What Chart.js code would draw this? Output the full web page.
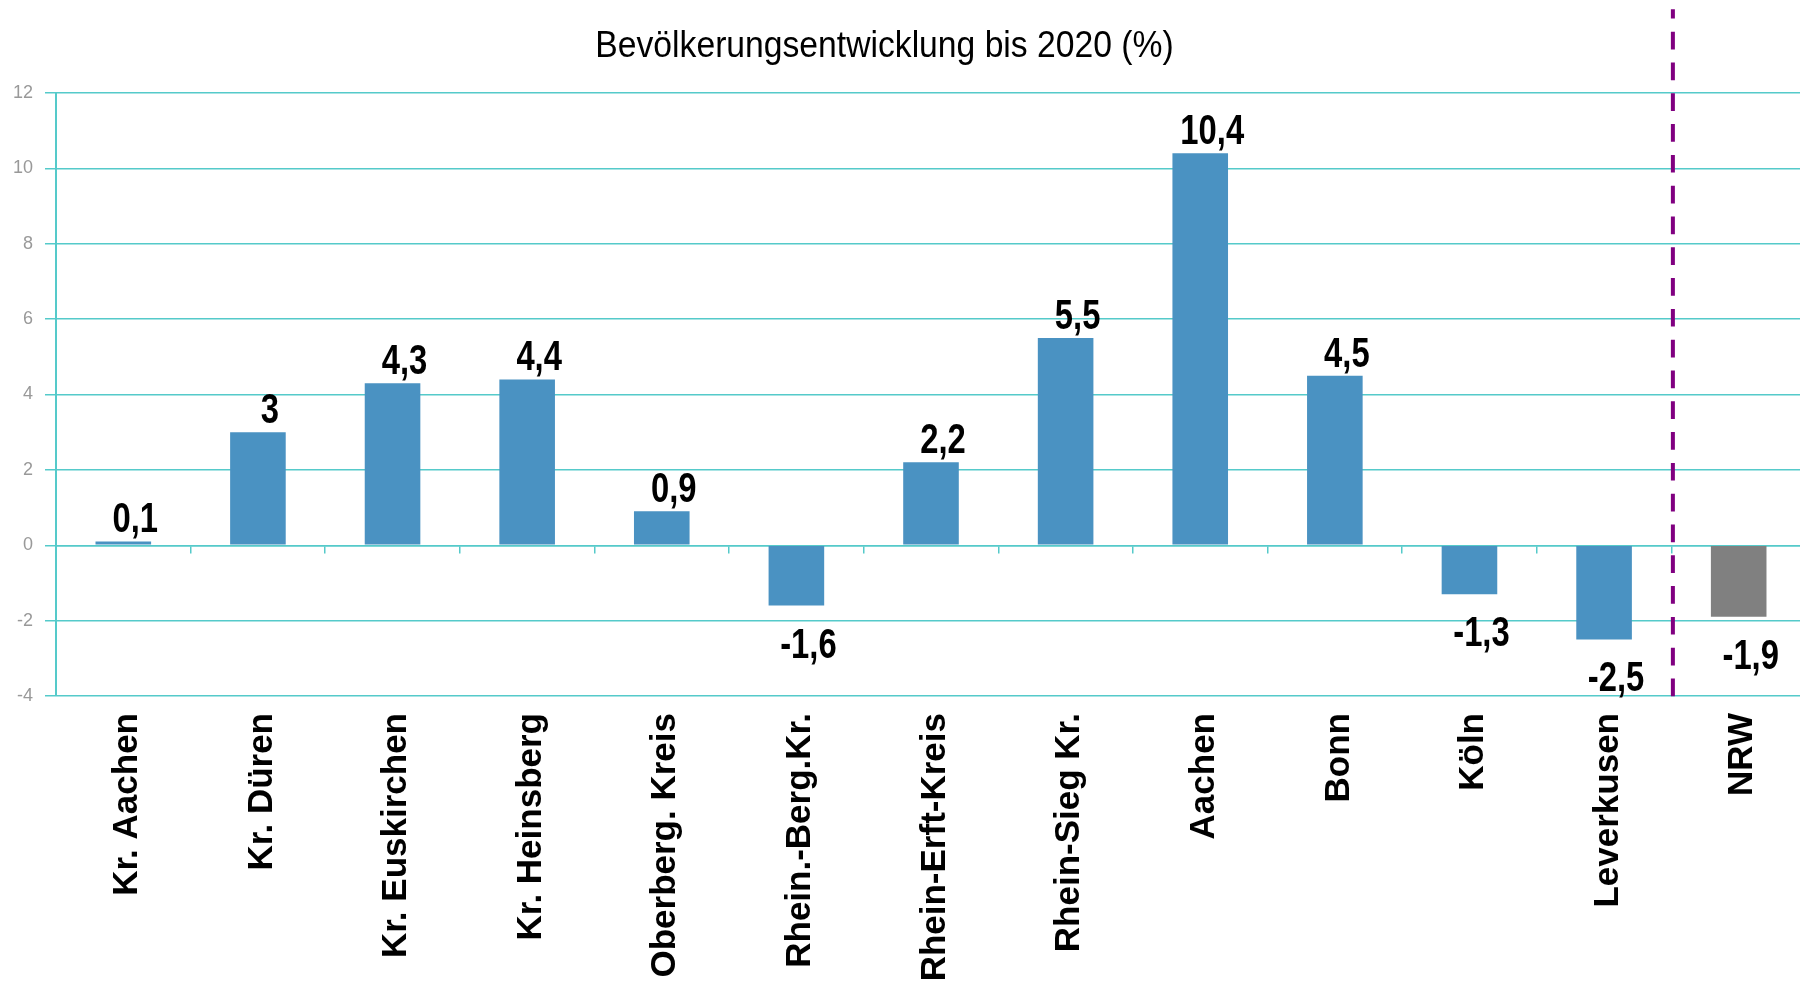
<!DOCTYPE html>
<html><head><meta charset="utf-8">
<script src="https://cdn.jsdelivr.net/npm/chart.js@4/dist/chart.umd.min.js"></script>
<style>
html,body{margin:0;padding:0;background:#fff;overflow:hidden;width:1800px;height:982px}
#wrap{position:absolute;left:0;top:0;width:1810px;height:982px}
</style>
</head><body><div id="wrap"><canvas id="c" width="1810" height="982"></canvas></div>
<script>
const categories = ['Kr. Aachen','Kr. Düren','Kr. Euskirchen','Kr. Heinsberg','Oberberg. Kreis','Rhein.-Berg.Kr.','Rhein-Erft-Kreis','Rhein-Sieg Kr.','Aachen','Bonn','Köln','Leverkusen','NRW'];
const values = [0.1, 3, 4.3, 4.4, 0.9, -1.6, 2.2, 5.5, 10.4, 4.5, -1.3, -2.5, -1.9];
const yTicks = [-4, -2, 0, 2, 4, 6, 8, 10, 12];
const chartTitle = 'Bevölkerungsentwicklung bis 2020 (%)';
const separatorAfter = 'Leverkusen';
const totalCategory = 'NRW';

const BLUE = '#4A92C2', GRAY = '#808080', GRID = '#55CACA', PURPLE = '#800080';
const FONT = '"Liberation Sans", Arial, sans-serif';

const titlePlugin = {
  id: 'titleText',
  afterDraw(chart) {
    const ctx = chart.ctx;
    ctx.save();
    ctx.font = '37px ' + FONT;
    ctx.fillStyle = '#000';
    ctx.textAlign = 'center';
    ctx.textBaseline = 'alphabetic';
    ctx.translate(884.5, 56.5);
    ctx.scale(0.91, 1);
    ctx.fillText(chartTitle, 0, 0);
    ctx.restore();
  }
};

const valueLabels = {
  id: 'valueLabels',
  afterDatasetsDraw(chart) {
    const ctx = chart.ctx;
    const meta = chart.getDatasetMeta(0);
    ctx.save();
    ctx.font = 'bold 42px ' + FONT;
    ctx.fillStyle = '#000';
    ctx.textAlign = 'center';
    ctx.textBaseline = 'alphabetic';
    meta.data.forEach((bar, i) => {
      const v = values[i];
      const txt = String(v).replace('.', ',');
      const y = v >= 0 ? bar.y - 9 : bar.y + 52;
      ctx.save();
      ctx.translate(bar.x + 12, y);
      ctx.scale(0.78, 1);
      ctx.fillText(txt, 0, 0);
      ctx.restore();
    });
    ctx.restore();
  }
};

const separator = {
  id: 'separator',
  afterDraw(chart) {
    const xs = chart.scales.x, ys = chart.scales.y;
    const i = categories.indexOf(separatorAfter);
    const x = (xs.getPixelForValue(i) + xs.getPixelForValue(i + 1)) / 2 + 1.5;
    const ctx = chart.ctx;
    ctx.save();
    ctx.strokeStyle = PURPLE;
    ctx.lineWidth = 4;
    ctx.setLineDash([17.7, 13.1]);
    ctx.lineDashOffset = 8.4;
    ctx.beginPath();
    ctx.moveTo(x, 9.3);
    ctx.lineTo(x, ys.getPixelForValue(yTicks[0]) + 1);
    ctx.stroke();
    ctx.restore();
  }
};

new Chart(document.getElementById('c'), {
  type: 'bar',
  data: {
    labels: categories,
    datasets: [{
      data: values,
      backgroundColor: (c) => categories[c.dataIndex] === totalCategory ? GRAY : BLUE,
      borderWidth: 0,
      barPercentage: 0.413,
      categoryPercentage: 1
    }]
  },
  options: {
    responsive: false,
    animation: false,
    devicePixelRatio: 1,
    layout: { padding: { top: 93, left: 0, right: 4, bottom: 0 } },
    plugins: { legend: { display: false }, title: { display: false }, tooltip: { enabled: false } },
    scales: {
      x: {
        type: 'category',
        position: 'bottom',
        offset: true,
        grid: { display: false, drawTicks: false },
        border: { display: false },
        ticks: {
          autoSkip: false, minRotation: 90, maxRotation: 90, padding: 17, labelOffset: 4,
          color: '#000', font: { family: FONT, size: 35, weight: 'bold' }
        },
        afterFit(s) { s.height = 286; }
      },
      x2: {
        type: 'category',
        labels: categories,
        position: { y: 0 },
        offset: true,
        grid: { offset: true, drawOnChartArea: false, drawTicks: true, tickLength: 7, color: GRID, lineWidth: 1.5 },
        border: { display: true, color: GRID, width: 1.5 },
        ticks: { display: false },
        afterFit(s) { s.height = 7; }
      },
      y: {
        type: 'linear',
        min: -4, max: 12,
        afterBuildTicks(s) { s.ticks = yTicks.map(v => ({ value: v })); },
        grid: { color: GRID, lineWidth: 1.5, tickLength: 11, drawTicks: true },
        border: { display: true, color: GRID, width: 2 },
        ticks: { padding: 12, color: '#999999', font: { family: FONT, size: 18 } },
        afterFit(s) { s.width = 56; }
      }
    }
  },
  plugins: [titlePlugin, valueLabels, separator]
});
</script>
</body></html>
